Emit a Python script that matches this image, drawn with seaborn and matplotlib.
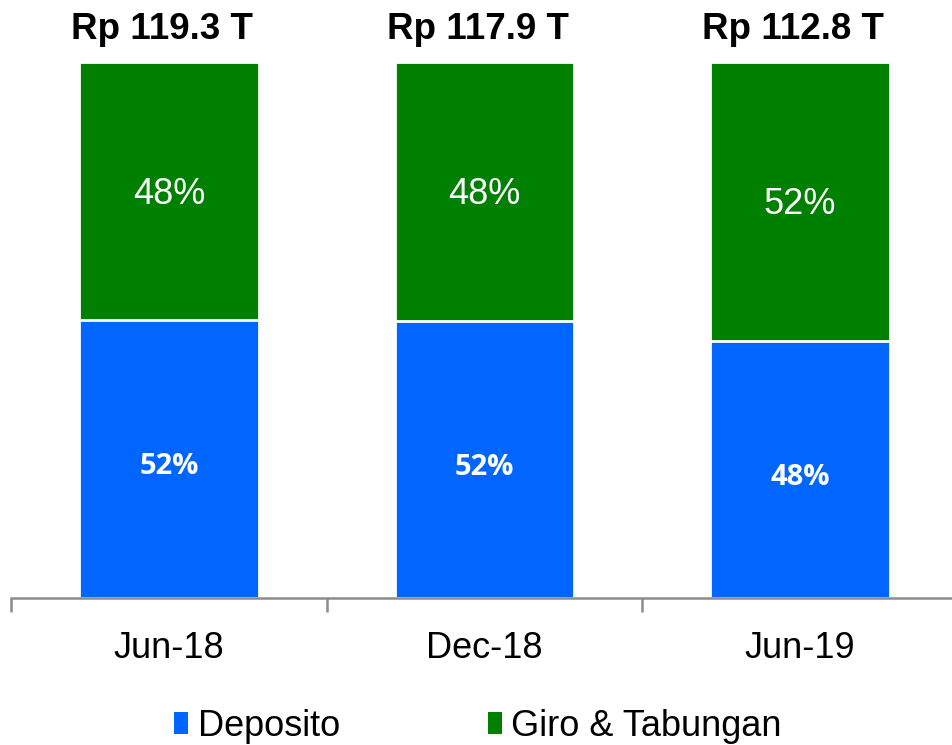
import matplotlib
matplotlib.use("Agg")
import matplotlib.pyplot as plt
import seaborn as sns
import pandas as pd
from matplotlib.patches import Patch

periods = ["Jun-18", "Dec-18", "Jun-19"]
deposito = [51.9, 51.6, 47.9]
giro_tabungan = [48.1, 48.4, 52.1]
totals = ["Rp 119.3 T", "Rp 117.9 T", "Rp 112.8 T"]
series_names = ["Deposito", "Giro & Tabungan"]

blue = "#0066FF"
green = "#008000"
axis_grey = "#8C8C8C"

sns.set_style("white")
plt.rcParams["font.family"] = ["Liberation Sans", "DejaVu Sans"]

df = pd.DataFrame({"period": periods, "dep": deposito, "giro": giro_tabungan})
df["total"] = df["dep"] + df["giro"]

fig = plt.figure(figsize=(9.52, 7.45), dpi=100)
ax = fig.add_axes([11/952, 1 - 598/745, 947/952, 536/745])

sns.barplot(data=df, x="period", y="total", color=green, width=0.57,
            edgecolor="white", linewidth=2, ax=ax, saturation=1)
sns.barplot(data=df, x="period", y="dep", color=blue, width=0.57,
            edgecolor="white", linewidth=2, ax=ax, saturation=1)

ax.set_xlim(-0.5, 2.5)
ax.set_ylim(0, 100)
ax.set_xlabel("")
ax.set_ylabel("")
ax.set_yticks([])
for s in ["top", "right", "left"]:
    ax.spines[s].set_visible(False)
ax.spines["bottom"].set_color(axis_grey)
ax.spines["bottom"].set_linewidth(1.8)

ax.set_xticks(range(len(periods)))
ax.set_xticklabels(periods, fontsize=26)
ax.tick_params(axis="x", which="major", bottom=False, length=0, pad=24, colors="black")
ax.set_xticks([-0.5, 0.5, 1.5, 2.5], minor=True)
ax.tick_params(axis="x", which="minor", bottom=True, length=10, width=1.8,
               color=axis_grey, direction="out")

for i, (d, g) in enumerate(zip(deposito, giro_tabungan)):
    ax.text(i, d / 2 - 1.4, f"{round(d):.0f}%", ha="center", va="center",
            color="white", fontsize=21, fontweight="bold", family=["Open Sans", "DejaVu Sans"])
    ax.text(i, d + g / 2 - 0.6, f"{round(g):.0f}%", ha="center", va="center",
            color="white", fontsize=26)
    ax.text(i - 0.022, d + g + 6.0, totals[i], ha="center", va="center",
            color="black", fontsize=26.5, fontweight="bold")

handles = [Patch(facecolor=blue, edgecolor="none"), Patch(facecolor=green, edgecolor="none")]
fig.legend(handles, series_names, loc="center", bbox_to_anchor=(0.502, 1 - 726/745),
           ncol=2, frameon=False, fontsize=26, handlelength=0.4, handleheight=0.55,
           handletextpad=0.25, columnspacing=4.1, labelcolor="black")

fig.savefig("out.png", dpi=100)
